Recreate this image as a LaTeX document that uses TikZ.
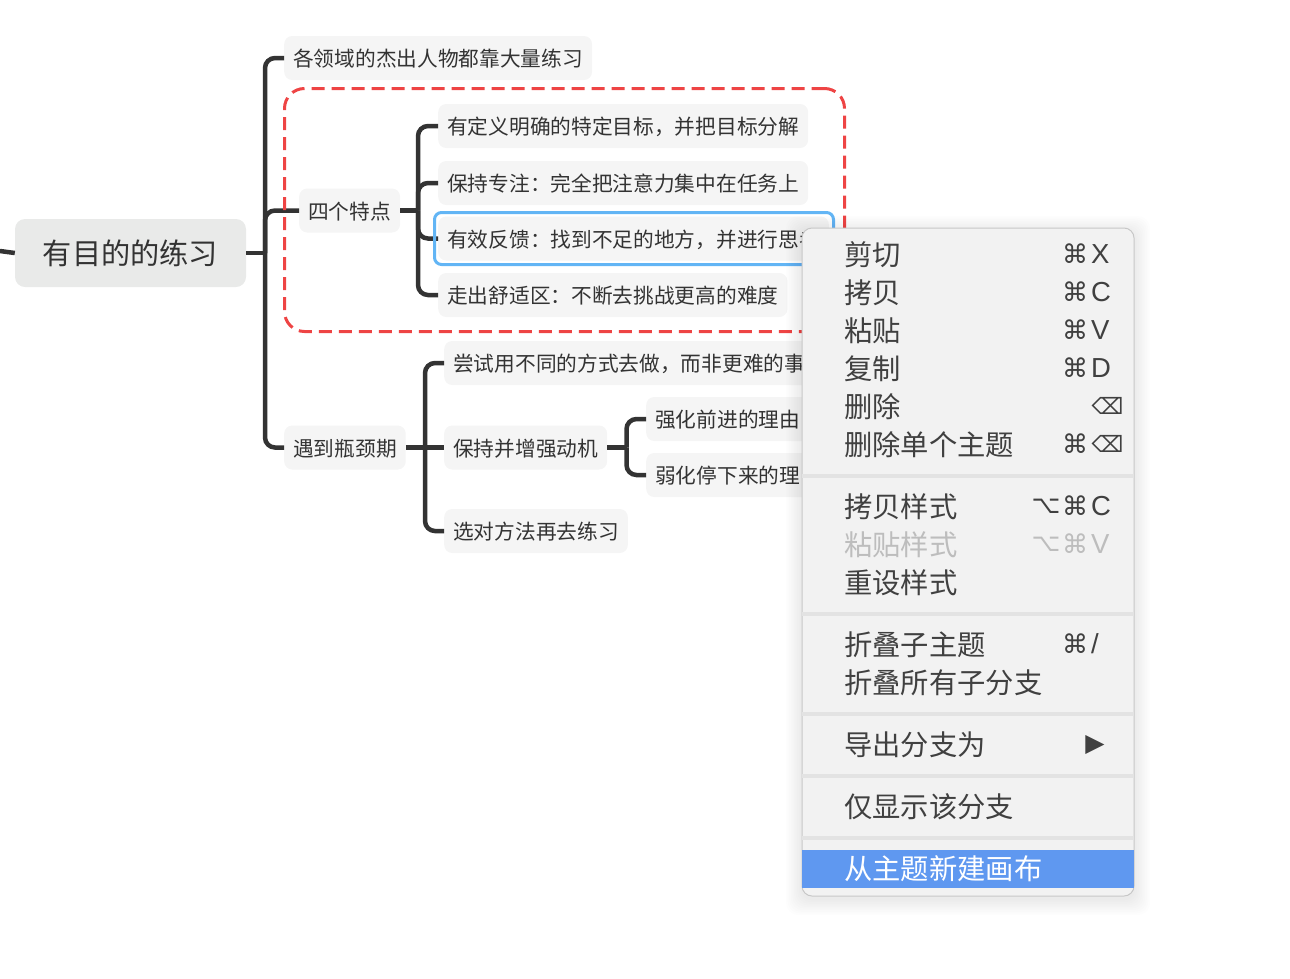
\documentclass[tikz,border=0pt]{standalone}
\usepackage{fontspec}
\usepackage{xcolor}
\setmainfont{Noto Sans CJK SC}
\newfontfamily\symfont{DejaVu Sans}
\newfontfamily\keyfont{Liberation Sans}
\usetikzlibrary{
    calc,
    positioning
}
\definecolor{inkdark}{HTML}{333333}
\definecolor{menuink}{HTML}{404040}
\definecolor{menuoff}{HTML}{BDBDBD}
\definecolor{menuface}{HTML}{F2F2F2}
\definecolor{menurule}{HTML}{E3E3E3}
\definecolor{menuhit}{HTML}{5F98F0}
\definecolor{topicface}{HTML}{F5F5F5}
\definecolor{rootface}{HTML}{E9EAE9}
\definecolor{markred}{HTML}{EE4444}
\definecolor{markblue}{HTML}{62B5F5}
\tikzset{
    topic/.style={anchor=west, fill=topicface, rounded corners=8, text=inkdark, inner xsep=9, inner ysep=0,
        minimum height=44, text height=20, text depth=2.2, font=\fontsize{20.7}{25}\selectfont},
    rootnode/.style={anchor=center, fill=rootface, rounded corners=10, text=inkdark, minimum width=231,
        minimum height=68, text height=25.7, text depth=3.5, font=\fontsize{29.2}{35}\selectfont},
    branchline/.style={draw=inkdark, line width=4.5, rounded corners=10},
    menuitem/.style={anchor=west, text=menuink, inner sep=0, text height=26, text depth=3,
        font=\fontsize{28.3}{34}\selectfont},
    menucmd/.style={anchor=center, text=menuink, inner sep=0, font=\symfont\fontsize{26}{30}\selectfont},
    menuopt/.style={anchor=center, text=menuink, inner sep=0, font=\symfont\fontsize{25}{30}\selectfont},
    menudel/.style={anchor=center, text=menuink, inner sep=0, font=\symfont\fontsize{22.5}{30}\selectfont},
    menukey/.style={anchor=west, text=menuink, inner sep=0, font=\keyfont\fontsize{27.5}{34}\selectfont},
    menurow/.style={draw=menurule, line width=4}
}

\begin{document}
\begin{tikzpicture}[x=1pt, y=-1pt]
    \useasboundingbox (0, 0) rectangle (1290, 978);

    \node[rootnode] (root) at (130.5, 253) {有目的的练习};

    \node[topic] (goal) at (284, 58) {各领域的杰出人物都靠大量练习};
    \node[topic] (four) at (299, 210.5) {四个特点};
    \node[topic] (stuck) at (284, 447.5) {遇到瓶颈期};

    \node[topic] (aim) at (438, 126) {有定义明确的特定目标，并把目标分解};
    \node[topic] (focus) at (438, 183) {保持专注：完全把注意力集中在任务上};
    \node[topic] (feedback) at (438, 238.5) {有效反馈：找到不足的地方，并进行思考};
    \node[topic] (comfort) at (438, 295) {走出舒适区：不断去挑战更高的难度};

    \node[topic] (method) at (444, 363) {尝试用不同的方式去做，而非更难的事};
    \node[topic] (drive) at (444, 447.5) {保持并增强动机};
    \node[topic] (again) at (444, 531) {选对方法再去练习};
    \node[topic] (reason) at (646, 419) {强化前进的理由};
    \node[topic] (weaken) at (646, 475) {弱化停下来的理由};

    \coordinate (stub) at (0, 251);
    \coordinate (spinetop) at (265, 253);
    \coordinate (spinefour) at (418, 210.5);
    \coordinate (spinestuck) at (425, 447.5);
    \coordinate (spinedrive) at (626.5, 447.5);

    \draw[branchline] (stub) -- (root.west);
    \draw[branchline] (root.east) -- (spinetop);
    \draw[branchline] (goal.west) -| (spinetop);
    \draw[branchline] (four.west) -| (spinetop);
    \draw[branchline] (stuck.west) -| (spinetop);

    \draw[branchline] (four.east) -- (spinefour);
    \draw[branchline] (aim.west) -| (spinefour);
    \draw[branchline] (focus.west) -| (spinefour);
    \draw[branchline] (feedback.west) -| (spinefour);
    \draw[branchline] (comfort.west) -| (spinefour);

    \draw[branchline] (stuck.east) -- (drive.west);
    \draw[branchline] (method.west) -| (spinestuck);
    \draw[branchline] (again.west) -| (spinestuck);

    \draw[branchline] (drive.east) -- (spinedrive);
    \draw[branchline] (reason.west) -| (spinedrive);
    \draw[branchline] (weaken.west) -| (spinedrive);

    \node[draw=markred, line width=3, dash pattern=on 13 off 7, rounded corners=20, anchor=north west,
        outer sep=0, minimum width=560, minimum height=243, inner sep=0] (redbox) at (284.5, 88.5) {};
    \node[draw=markblue, line width=3, rounded corners=7, anchor=north west,
        outer sep=0, minimum width=399, minimum height=52, inner sep=0] (bluebox) at (434.5, 212.5) {};

    \foreach \s in {1,...,10}
        \fill[black, opacity=0.008, rounded corners=12]
            (802-1.6*\s, 232-1.6*\s) rectangle (1134+1.6*\s, 899+1.6*\s);

    \node[fill=menuface, draw=black!22, line width=1, rounded corners=10, anchor=north west,
        outer sep=0, minimum width=332, minimum height=668, inner sep=0] (menu) at (802, 228) {};

    \draw[menurow] (menu.west |- 0, 476) -- (menu.east |- 0, 476);
    \draw[menurow] (menu.west |- 0, 614) -- (menu.east |- 0, 614);
    \draw[menurow] (menu.west |- 0, 714) -- (menu.east |- 0, 714);
    \draw[menurow] (menu.west |- 0, 776) -- (menu.east |- 0, 776);
    \draw[menurow] (menu.west |- 0, 838) -- (menu.east |- 0, 838);
    \fill[menuhit] (802, 850) rectangle (1134, 888);

    \node[menuitem] (cut) at (844, 254) {剪切};
    \node[menuitem] (copy) at (844, 292) {拷贝};
    \node[menuitem] (paste) at (844, 330) {粘贴};
    \node[menuitem] (dupe) at (844, 368) {复制};
    \node[menuitem] (erase) at (844, 406) {删除};
    \node[menuitem] (eraseone) at (844, 444) {删除单个主题};
    \node[menuitem] (copystyle) at (844, 506) {拷贝样式};
    \node[menuitem, text=menuoff] (pastestyle) at (844, 544) {粘贴样式};
    \node[menuitem] (resetstyle) at (844, 582) {重设样式};
    \node[menuitem] (fold) at (844, 644) {折叠子主题};
    \node[menuitem] (foldall) at (844, 682) {折叠所有子分支};
    \node[menuitem] (export) at (844, 744) {导出分支为};
    \node[menuitem] (only) at (844, 806) {仅显示该分支};
    \node[menuitem, text=white] (canvas) at (844, 868) {从主题新建画布};

    \node[menucmd] (cutcmd) at (1075, 254) {⌘};
    \node[menukey] (cutkey) at (1091, 254) {X};
    \node[menucmd] (copycmd) at (1075, 292) {⌘};
    \node[menukey] (copykey) at (1091, 292) {C};
    \node[menucmd] (pastecmd) at (1075, 330) {⌘};
    \node[menukey] (pastekey) at (1091, 330) {V};
    \node[menucmd] (dupecmd) at (1075, 368) {⌘};
    \node[menukey] (dupekey) at (1091, 368) {D};
    \node[menudel] (erasekey) at (1107.5, 406) {⌫};
    \node[menucmd] (eraseonecmd) at (1075, 444) {⌘};
    \node[menudel] (eraseonekey) at (1107.5, 444) {⌫};
    \node[menuopt] (copystyleopt) at (1046, 506) {⌥};
    \node[menucmd] (copystylecmd) at (1075, 506) {⌘};
    \node[menukey] (copystylekey) at (1091, 506) {C};
    \node[menuopt, text=menuoff] (pastestyleopt) at (1046, 544) {⌥};
    \node[menucmd, text=menuoff] (pastestylecmd) at (1075, 544) {⌘};
    \node[menukey, text=menuoff] (pastestylekey) at (1091, 544) {V};
    \node[menucmd] (foldcmd) at (1075, 644) {⌘};
    \node[menukey] (foldkey) at (1091, 644) {/};
    \node[menuopt] (exportarrow) at (1095, 745) {▶};
\end{tikzpicture}
\end{document}
